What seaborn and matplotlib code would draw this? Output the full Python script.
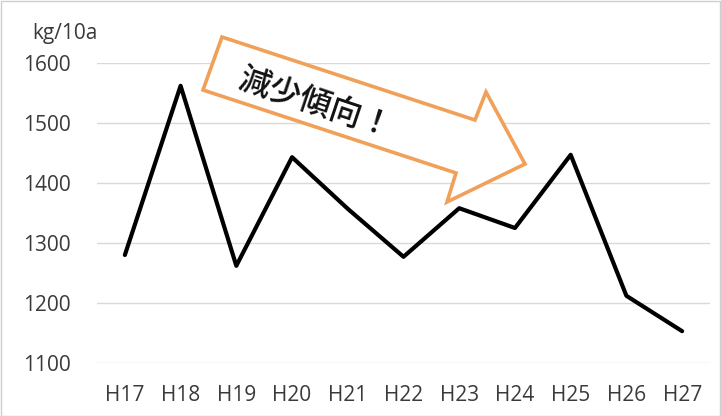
import matplotlib
matplotlib.use("Agg")
import matplotlib.pyplot as plt
import seaborn as sns
import pandas as pd
from matplotlib.patches import Polygon, Rectangle

years = ["H17", "H18", "H19", "H20", "H21", "H22", "H23", "H24", "H25", "H26", "H27"]
yields = [1280, 1562, 1262, 1443, 1357, 1277, 1358, 1325, 1447, 1212, 1153]
y_ticks = [1100, 1200, 1300, 1400, 1500, 1600]
unit_label = "kg/10a"
note_text = "減少傾向！"

sns.set_theme(style="white")
plt.rcParams['font.family'] = ['Open Sans', 'Noto Sans CJK JP', 'DejaVu Sans']

W, H = 721, 416
fig = plt.figure(figsize=(W / 100, H / 100), dpi=100)
ax = fig.add_axes([97 / W, 1 - 363 / H, (710 - 97) / W, (363 - 63) / H])

df = pd.DataFrame({"year": years, "yield": yields})
df["pos"] = range(len(years))
sns.lineplot(data=df, x="pos", y="yield", sort=False, color="black", linewidth=3, ax=ax)

ax.set_xlim(-0.5, len(years) - 0.5)
ax.set_ylim(min(y_ticks), max(y_ticks))
ax.set_yticks(y_ticks)
ax.set_xticks(range(len(years)))
ax.set_xticklabels(years)
ax.set_xlabel("")
ax.set_ylabel("")
for s in ax.spines.values():
    s.set_visible(False)
ax.yaxis.grid(True, color="#d9d9d9", linewidth=1)
ax.set_axisbelow(True)
ax.tick_params(axis="both", length=0, labelsize=15, labelcolor="#3a3a3a")
ax.tick_params(axis="y", pad=19)
ax.tick_params(axis="x", pad=16)
ax.get_lines()[0].set_clip_on(False)

# unit label
fig.text(32 / W, 1 - 33 / H, unit_label, fontsize=15, color="#3a3a3a", va="center", ha="left")

# figure border
fig.patches.append(Rectangle((0.001, 0.001), 0.997, 0.996, transform=fig.transFigure,
                             fill=False, edgecolor="#cfcfcf", linewidth=1))

# arrow annotation (pixel coordinates of figure)
pts_px = [(222, 37), (475, 120), (486, 92), (525, 164), (447, 202), (456, 173), (203, 90)]
pts = [(x / W, 1 - y / H) for x, y in pts_px]
fig.patches.append(Polygon(pts, closed=True, transform=fig.transFigure,
                           facecolor="white", edgecolor="#F0A058", linewidth=2.6, zorder=5))
fig.text(316 / W, 1 - 104 / H, note_text, fontsize=23, rotation=-18.5, color="#111111",
         family=['Noto Sans CJK JP', 'DejaVu Sans'], fontweight="medium",
         ha="center", va="center", zorder=6)

fig.savefig("out.png", dpi=100)
